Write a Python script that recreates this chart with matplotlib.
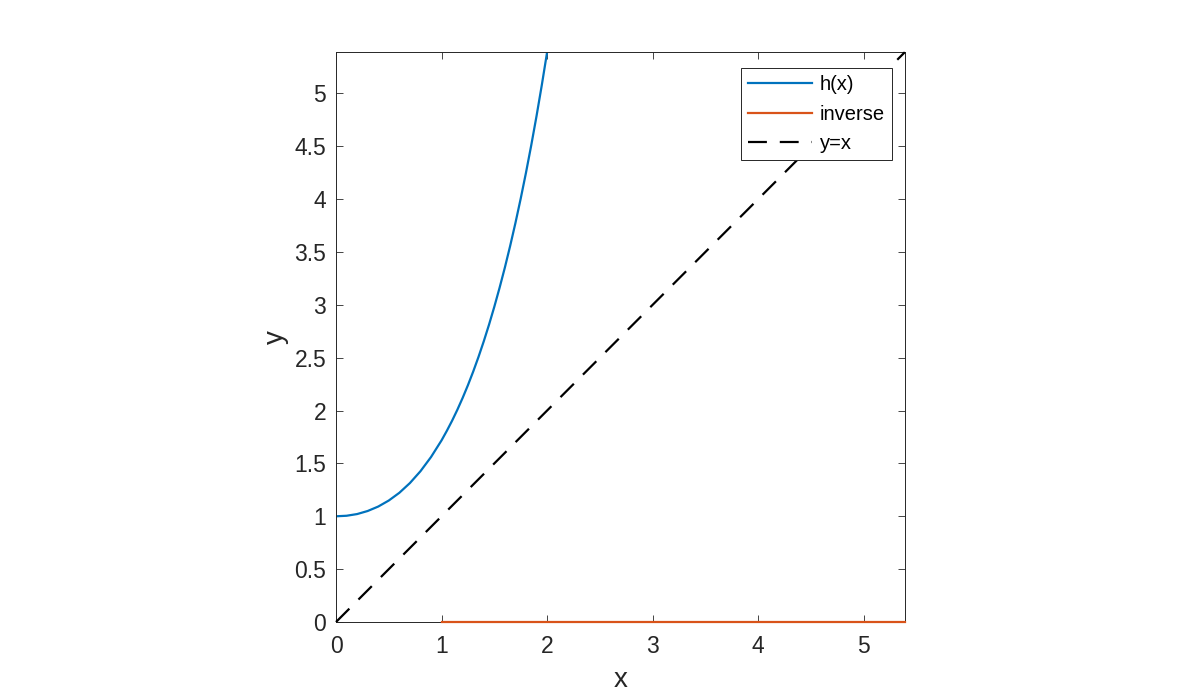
import matplotlib.pyplot as plt

plt.rcParams['font.family'] = ['Liberation Sans', 'DejaVu Sans']

# h(x) samples
hx = [0.0, 0.1, 0.2, 0.3, 0.4, 0.5, 0.6, 0.7, 0.8, 0.9, 1.0,
      1.05, 1.1, 1.15, 1.2, 1.25, 1.3, 1.35, 1.4, 1.45, 1.5,
      1.55, 1.6, 1.65, 1.7, 1.75, 1.8, 1.85, 1.9, 1.95, 2.0]
hy = [1.000, 1.005, 1.021, 1.050, 1.092, 1.149, 1.222, 1.314, 1.426, 1.560, 1.718,
      1.808, 1.904, 2.008, 2.120, 2.240, 2.369, 2.507, 2.655, 2.813, 2.982,
      3.162, 3.353, 3.557, 3.774, 4.005, 4.250, 4.510, 4.786, 5.079, 5.389]

# the "inverse" series comes out flat at zero
inv_x = [1.0, 5.389]
inv_y = [0.0, 0.0]

# reference line y=x
ref_x = [0.0, 5.389]
ref_y = [0.0, 5.389]

lim = 5.389
xticks = [0, 1, 2, 3, 4, 5]
yticks = [0, 0.5, 1, 1.5, 2, 2.5, 3, 3.5, 4, 4.5, 5]
ytick_labels = ['0', '0.5', '1', '1.5', '2', '2.5', '3', '3.5', '4', '4.5', '5']

fig = plt.figure(figsize=(12, 7), dpi=100)
ax = fig.add_axes([0.28, 0.1114, 0.474, 0.814])

ax.plot(hx, hy, color='#0072BD', linewidth=1.6, label='h(x)')
ax.plot(inv_x, inv_y, color='#D95319', linewidth=1.6, label='inverse', clip_on=False, zorder=5)
ax.plot(ref_x, ref_y, color='black', linewidth=1.6, dashes=(8.5, 5.8), label='y=x',
        clip_on=False, zorder=4)

ax.set_xlim(0, lim)
ax.set_ylim(0, lim)
ax.set_xticks(xticks)
ax.set_yticks(yticks)
ax.set_yticklabels(ytick_labels)

ax.tick_params(direction='in', length=5, width=0.6, colors='#262626', labelsize=16.5,
               top=True, right=True)
ax.tick_params(axis='x', pad=9)
ax.tick_params(axis='y', pad=7)
for s in ax.spines.values():
    s.set_linewidth(0.7)
    s.set_color('#262626')

ax.set_xlabel('x', fontsize=20, color='#262626', labelpad=7)
ax.set_ylabel('y', fontsize=20, color='#262626', labelpad=4)

# legend box pinned to its corner in the reference
leg = ax.legend(loc='upper right', bbox_to_anchor=(0.977, 0.972), borderaxespad=0,
                fontsize=14.5, frameon=True, fancybox=False,
                edgecolor='#262626', framealpha=1,
                handlelength=3.2, handletextpad=0.35, labelspacing=0.52,
                borderpad=0.35)
leg.get_frame().set_linewidth(0.7)

plt.savefig('out.png', dpi=100)
